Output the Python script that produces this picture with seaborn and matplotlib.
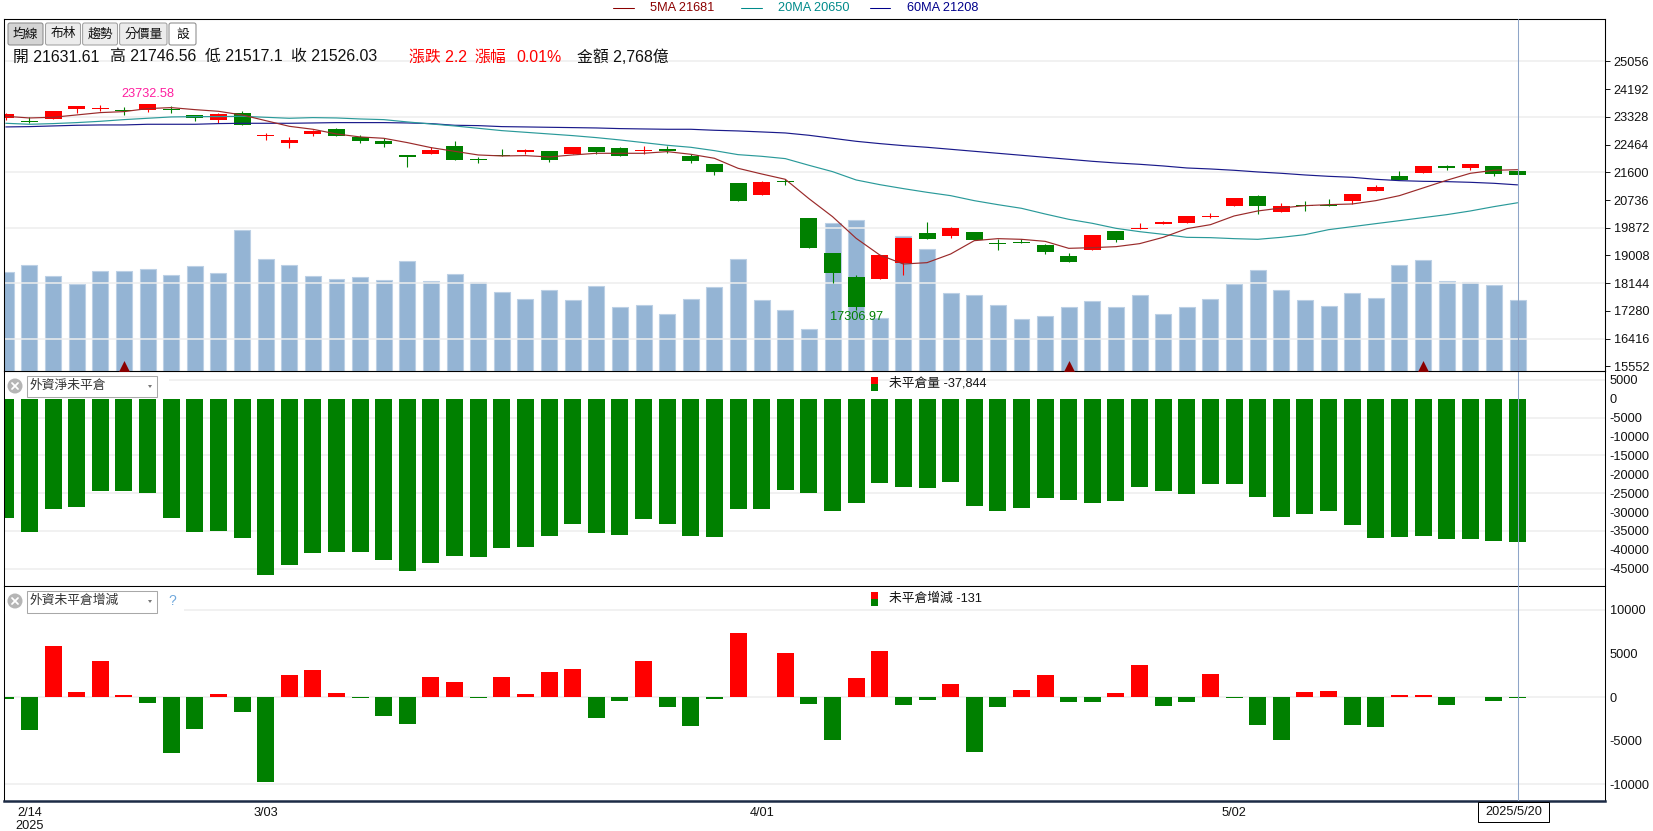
import matplotlib
matplotlib.use("Agg")
import matplotlib.pyplot as plt
from matplotlib.patches import Rectangle, FancyBboxPatch, Circle, Polygon
import seaborn as sns
import pandas as pd

days = list(range(65))

opens = [23295,23212,23264,23576,23576,23555,23545,23576,23389,23233,
         23451,22744,22515,22796,22952,22703,22578,22141,22172,22422,
         22016,22141,22235,22266,22172,22391,22359,22255,22328,22120,
         21860,21267,20893,21330,20175,19083,18335,18272,18771,19707,
         19614,19739,19395,19427,19333,18990,19177,19770,19832,19988,
         20019,20207,20550,20862,20363,20581,20581,20706,21018,21486,
         21579,21798,21735,21798,21632]
closes = [23420,23181,23514,23670,23618,23524,23720,23555,23306,23420,
          23077,22775,22609,22890,22734,22578,22484,22089,22297,21985,
          21985,22110,22297,21985,22391,22235,22110,22297,22266,21954,
          21611,20706,21299,21309,19239,18459,17399,19021,19551,19520,
          19863,19489,19364,19395,19115,18803,19645,19489,19863,20051,
          20238,20238,20799,20550,20550,20550,20560,20924,21143,21351,
          21798,21746,21860,21548,21526]
highs = [23441,23316,23514,23670,23691,23628,23733,23670,23400,23462,
         23514,22838,22703,22911,22983,22765,22661,22141,22401,22578,
         22089,22318,22328,22266,22391,22391,22391,22422,22422,22172,
         21860,21267,21330,21392,20175,19083,18397,19021,19551,20051,
         19895,19739,19520,19520,19364,19083,19645,19770,20019,20082,
         20238,20331,20799,20893,20643,20706,20768,20924,21205,21642,
         21798,21829,21860,21798,21747]
lows = [23233,23150,23264,23462,23514,23389,23483,23462,23202,23129,
        23077,22609,22359,22734,22734,22515,22391,21767,22172,21985,
        21881,22110,22172,21923,22172,22172,22110,22172,22193,21891,
        21517,20706,20893,21205,19239,18147,17307,18272,18397,19520,
        19551,19489,19177,19395,19052,18803,19177,19427,19832,19988,
        20019,20175,20550,20300,20363,20394,20550,20612,21018,21351,
        21579,21673,21673,21486,21517]

ma5 = [23347,23295,23316,23389,23462,23493,23587,23618,23555,23503,
       23389,23212,23035,22942,22796,22703,22661,22526,22370,22255,
       22141,22110,22120,22079,22141,22193,22193,22193,22245,22162,
       22037,21725,21548,21382,20779,20217,19541,19021,18740,18782,
       19052,19468,19531,19510,19447,19229,19250,19281,19375,19572,
       19843,19967,20238,20394,20487,20560,20591,20612,20716,20872,
       21111,21351,21569,21663,21681]
ma20 = [23129,23098,23119,23150,23191,23243,23285,23327,23337,23337,
        23347,23316,23285,23306,23295,23264,23243,23171,23108,23046,
        22973,22900,22848,22796,22744,22682,22609,22526,22443,22380,
        22276,22151,22099,22027,21819,21621,21361,21215,21091,20976,
        20872,20716,20591,20477,20300,20134,20009,19853,19749,19666,
        19572,19562,19531,19510,19572,19655,19811,19905,19999,20092,
        20186,20279,20394,20529,20650]
ma60 = [23015,23025,23046,23067,23077,23077,23098,23098,23098,23119,
        23129,23129,23129,23139,23150,23150,23150,23139,23119,23067,
        23056,23025,23015,23004,22994,22983,22963,22952,22942,22942,
        22911,22890,22859,22827,22755,22661,22567,22495,22432,22380,
        22318,22255,22193,22131,22068,22006,21943,21891,21850,21798,
        21735,21704,21663,21611,21569,21517,21475,21444,21382,21340,
        21319,21309,21288,21257,21208]

# turnover in 億
volume = [3866,4140,3709,3396,3905,3905,3983,3748,4101,3827,
          5511,4375,4140,3709,3592,3670,3552,4297,3513,3787,
          3474,3082,2808,3161,2768,3317,2494,2573,2220,2808,
          3278,4375,2768,2377,1633,5786,5903,2063,5289,4767,
          3043,2965,2573,2024,2142,2494,2730,2494,2965,2220,
          2494,2808,3396,3944,3161,2768,2534,3043,2847,4140,
          4336,3513,3474,3356,2768]

net_oi = [-31435,-35143,-29316,-28786,-24547,-24547,-25077,-31435,-35143,-34879,
          -36733,-46534,-43885,-40706,-40441,-40441,-42561,-45475,-43355,-41501,
          -41766,-39382,-39117,-36203,-33024,-35408,-35938,-31700,-33024,-36203,
          -36468,-29316,-29316,-24283,-25077,-29845,-27726,-22428,-23488,-23753,
          -22163,-28521,-29845,-29051,-26402,-26932,-27726,-27196,-23488,-24547,
          -25342,-22693,-22693,-26137,-31170,-30640,-29845,-33289,-36733,-36468,
          -36203,-36998,-36998,-37528,-37844]

oi_change = [-230,-3787,5852,574,4131,230,-689,-6426,-3672,344,
             -1721,-9754,2525,3098,459,-40,-2180,-3098,2295,1721,
             -130,2295,344,2869,3213,-2410,-459,4131,-1148,-3328,
             -230,7344,20,5049,-803,-4934,2180,5279,-918,-344,
             1492,-6311,-1148,803,2525,-574,-574,459,3672,-1033,
             -574,2639,-131,-3213,-4934,574,689,-3213,-3443,230,
             230,-918,-20,-459,-131]

price_ticks = [25056,24192,23328,22464,21600,20736,19872,19008,18144,17280,16416,15552]
price_grid = [25056,23328,21600,19872,18144,16416]
oi_ticks = [5000,0,-5000,-10000,-15000,-20000,-25000,-30000,-35000,-40000,-45000]
oi_grid = [5000,-5000,-15000,-25000,-35000,-45000]
chg_ticks = [10000,5000,0,-5000,-10000]
chg_grid = [10000,0,-10000]
date_pos = [1,11,32,52]
date_labels = ['2/14\n2025','3/03','4/01','5/02']
signal_days = [5,45,60]
signal_level = [15558,15558,15558]

RED = '#ff0000'
GREEN = '#008000'
GRID = '#eeeeee'
W, H = 1653, 831

sns.set_theme(style='white')
plt.rcParams['font.family'] = ['Liberation Sans', 'Noto Sans CJK TC', 'DejaVu Sans']
plt.rcParams['font.size'] = 9.2

fig = plt.figure(figsize=(W/100, H/100), dpi=100)

def panel(top, bottom):
    return fig.add_axes([4.2/W, 1-bottom/H, (1605.4-4.2)/W, (bottom-top)/H])

ax1 = panel(19.3, 371)
ax2 = panel(371, 586)
ax3 = panel(586, 801)
ax_vol = ax1.twinx()
ax_vol.set_zorder(0)
ax1.set_zorder(1)
ax1.patch.set_visible(False)

#volume behind the candles
sns.barplot(x=days, y=volume, native_scale=True, width=0.675, color='#94b4d4', saturation=1,
            edgecolor='#bcd0e5', linewidth=0.8, ax=ax_vol)
ax_vol.set_ylim(0, 13778)
ax_vol.set_yticks([])

for g in price_grid:
    ax1.axhline(g, color=GRID, lw=1.1, zorder=0)

#candles
for i in days:
    c = RED if closes[i] >= opens[i] else GREEN
    ax1.vlines(i, lows[i], highs[i], color=c, lw=0.8, zorder=2)
    ax1.bar(i, closes[i]-opens[i], bottom=opens[i], width=0.72, color=c, lw=0, zorder=2)

sns.lineplot(x=days, y=ma60, color='#1a1a8b', lw=0.85, ax=ax1, zorder=3)
sns.lineplot(x=days, y=ma20, color='#2a9a9a', lw=0.85, ax=ax1, zorder=3)
sns.lineplot(x=days, y=ma5, color='#9a2a2a', lw=0.85, ax=ax1, zorder=3)
sns.scatterplot(x=signal_days, y=signal_level, marker='^', s=62, color='#8b0000', linewidth=0, ax=ax1, zorder=4)

ax1.text(6, 24034, '23732.58', color='#ff1fa0', ha='center', va='center', fontsize=9.2)
ax1.text(36, 17087, '17306.97', color=GREEN, ha='center', va='center', fontsize=9.2, zorder=5)
ax1.set_ylim(15403, 26372)
ax1.set_yticks(price_ticks)
ax1.set_yticklabels([str(t) for t in price_ticks])

#foreign net open interest
for g in oi_grid:
    ax2.axhline(g, color=GRID, lw=1.1, zorder=0)
sns.barplot(x=days, y=net_oi, native_scale=True, width=0.72, color=GREEN, saturation=1, linewidth=0, ax=ax2, zorder=2)
ax2.set_ylim(-49560, 7330)
ax2.set_yticks(oi_ticks)
ax2.set_yticklabels([str(t) for t in oi_ticks])

#daily change
for g in chg_grid:
    ax3.axhline(g, color=GRID, lw=1.1, zorder=0)
chg = pd.DataFrame({'day': days, 'chg': oi_change, 'side': ['up' if v > 0 else 'down' for v in oi_change]})
sns.barplot(data=chg, x='day', y='chg', hue='side', palette={'up': RED, 'down': GREEN}, native_scale=True,
            dodge=False, width=0.72, saturation=1, linewidth=0, legend=False, ax=ax3, zorder=2)
ax3.set_ylim(-11900, 12740)
ax3.set_yticks(chg_ticks)
ax3.set_yticklabels([str(t) for t in chg_ticks])
ax3.set_xticks(date_pos)
ax3.set_xticklabels(date_labels, fontsize=9.2, color='#111111', linespacing=1.15)

for ax in [ax1, ax2, ax3, ax_vol]:
    ax.set_xlim(-0.068, 67.72)
    ax.set_xlabel('')
    ax.set_ylabel('')
    for s in ax.spines.values():
        s.set_color('black')
        s.set_linewidth(0.75)
for ax in [ax1, ax2, ax3]:
    ax.yaxis.tick_right()
    ax.axvline(64, color='#8fa5c8', lw=0.75, zorder=6)
ax1.tick_params(axis='y', length=3.6, width=0.7, pad=2.5, labelsize=9.2, colors='#111111', right=True)
ax2.tick_params(axis='y', length=0, pad=3, labelsize=9.2, colors='#111111')
ax3.tick_params(axis='y', length=0, pad=3, labelsize=9.2, colors='#111111')
ax3.tick_params(axis='x', length=0, pad=4)
ax1.set_xticks([])
ax2.set_xticks([])
ax_vol.set_xticks([])
ax3.spines['bottom'].set_linewidth(1.8)
ax3.spines['bottom'].set_color('#1c2b45')

#page furniture, placed in pixels on a full figure overlay
ov = fig.add_axes([0, 0, 1, 1], zorder=10)
ov.set_xlim(0, W)
ov.set_ylim(H, 0)
ov.axis('off')

def label(x, y, s, color='#111111', size=9.2, ha='left'):
    ov.text(x, y, s, color=color, fontsize=size, ha=ha, va='center')

#top legend
for x0, x1, tx, name, c in [(613, 634, 650, '5MA 21681', '#8b0000'),
                            (741, 762, 778, '20MA 20650', '#008b8b'),
                            (870, 890, 907, '60MA 21208', '#00008b')]:
    ov.plot([x0, x1], [8.3, 8.3], color=c, lw=0.75)
    label(tx, 8.3, name, color=c)

#chart buttons
for x0, x1, s, face, edge in [(8, 43, '均線', '#d4d4d4', '#8a8a8a'), (45.5, 80.5, '布林', '#ececec', '#a0a0a0'),
                              (82.6, 117.5, '趨勢', '#ececec', '#a0a0a0'), (119.6, 167, '分價量', '#ececec', '#a0a0a0'),
                              (169, 196, '設', 'white', '#8a8a8a')]:
    ov.add_patch(FancyBboxPatch((x0, 23), x1-x0, 22, boxstyle='round,pad=0,rounding_size=2', fc=face, ec=edge, lw=0.75))
    label((x0+x1)/2, 34.5, s, ha='center')

#OHLC line
for x, s, c in [(13, '開 21631.61', '#111111'), (110, '高 21746.56', '#111111'), (205, '低 21517.1', '#111111'),
                (291, '收 21526.03', '#111111'), (409, '漲跌 2.2', RED), (474, '漲幅', RED), (516, '0.01%', RED),
                (577, '金額 2,768億', '#111111')]:
    label(x, 57, s, color=c, size=11.4)

#indicator selectors
for y0, y1, cy, name, mask in [(376.3, 397.3, 386, '外資淨未平倉', 169), (591.3, 612.7, 601, '外資未平倉增減', 184)]:
    ov.add_patch(Rectangle((5, y0-1), mask-5, y1-y0+2, fc='white', ec='none'))
    ov.add_patch(Rectangle((26.5, y0), 130.5, y1-y0, fc='white', ec='#a8a8a8', lw=0.75))
    ov.add_patch(Circle((15, cy), 7.5, fc='#b5b5b5', ec='none'))
    ov.plot([12, 18], [cy-3, cy+3], color='white', lw=1.3)
    ov.plot([12, 18], [cy+3, cy-3], color='white', lw=1.3)
    ov.add_patch(Polygon([[148, cy-1], [152, cy-1], [150, cy+2]], fc='#777777', ec='none'))
    label(30, cy, name, color='#333333')
label(172, 601, '?', color='#6fa8dc', size=10, ha='center')

#panel value labels
for top, name in [(377, '未平倉量 -37,844'), (592, '未平倉增減 -131')]:
    ov.add_patch(Rectangle((871, top), 7, 7, fc=RED, ec='none'))
    ov.add_patch(Rectangle((871, top+7), 7, 7, fc=GREEN, ec='none'))
    label(888.6, top+6.5, name)

#date box under the cursor
ov.add_patch(Rectangle((1478, 802), 71, 20, fc='white', ec='black', lw=0.72))
label(1513.5, 812, '2025/5/20', ha='center')

fig.savefig('out.png', dpi=100)
